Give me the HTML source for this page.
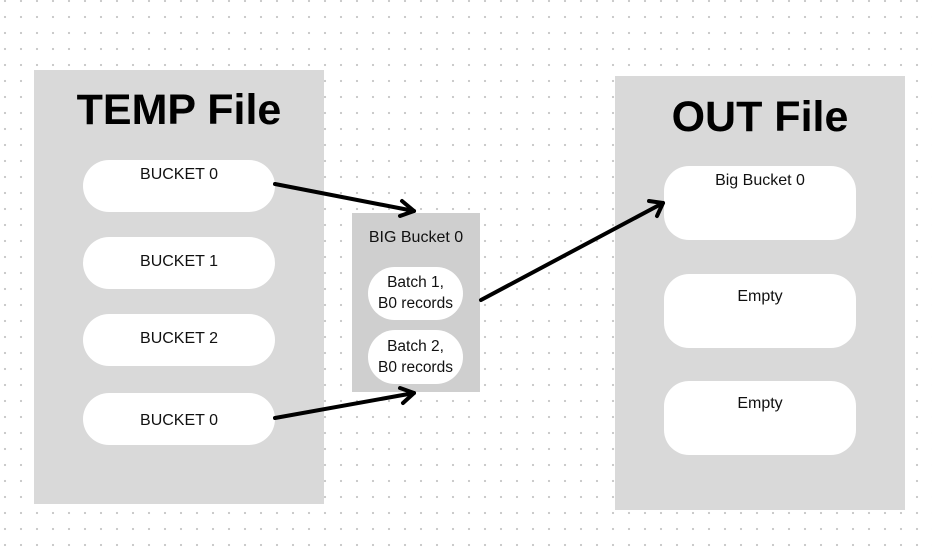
<!DOCTYPE html>
<html><head><style>
body{margin:0;width:932px;height:548px;overflow:hidden;background-color:#fff;
background-image:radial-gradient(circle,#c8c8c8 1px,transparent 1.3px);background-size:16px 16px;background-position:-3px -7px;
font-family:"Liberation Sans",sans-serif;position:relative}
.box{position:absolute;background:#d9d9d9}
.pill{position:absolute;background:#fff;text-align:center;font-size:16px;color:#111}
h1{position:absolute;margin:0;font-size:43px;font-weight:bold;text-align:center;color:#000}
</style></head><body>
<div class="box" style="left:34px;top:70px;width:290px;height:434px"></div>
<h1 style="left:34px;width:290px;top:86px">TEMP File</h1>
<div class="pill" style="left:83px;top:160px;width:192px;height:52px;border-radius:26px;padding-top:6px;box-sizing:border-box">BUCKET 0</div>
<div class="pill" style="left:83px;top:237px;width:192px;height:52px;border-radius:26px;line-height:50px">BUCKET 1</div>
<div class="pill" style="left:83px;top:314px;width:192px;height:52px;border-radius:26px;line-height:50px">BUCKET 2</div>
<div class="pill" style="left:83px;top:393px;width:192px;height:52px;border-radius:26px;line-height:56px">BUCKET 0</div>

<div class="box" style="left:352px;top:213px;width:128px;height:179px;background:#cfcfcf"></div>
<div style="position:absolute;left:352px;width:128px;top:229px;text-align:center;font-size:16px;color:#111">BIG Bucket 0</div>
<div class="pill" style="left:368px;top:267px;width:95px;height:53px;border-radius:27px;line-height:21px;padding-top:5px;box-sizing:border-box;font-size:15.5px">Batch 1,<br>B0 records</div>
<div class="pill" style="left:368px;top:330px;width:95px;height:54px;border-radius:27px;line-height:21px;padding-top:6px;box-sizing:border-box;font-size:15.5px">Batch 2,<br>B0 records</div>

<div class="box" style="left:615px;top:76px;width:290px;height:434px"></div>
<h1 style="left:615px;width:290px;top:93px">OUT File</h1>
<div class="pill" style="left:664px;top:166px;width:192px;height:74px;border-radius:25px;padding-top:6px;box-sizing:border-box">Big Bucket 0</div>
<div class="pill" style="left:664px;top:274px;width:192px;height:74px;border-radius:25px;padding-top:14px;box-sizing:border-box">Empty</div>
<div class="pill" style="left:664px;top:381px;width:192px;height:74px;border-radius:25px;padding-top:14px;box-sizing:border-box">Empty</div>

<svg width="932" height="548" style="position:absolute;left:0;top:0">
<g stroke="#000" stroke-width="4" fill="none" stroke-linecap="round" stroke-linejoin="round">
<line x1="275" y1="184" x2="414" y2="211"/><polyline points="402,201 414,211 400,216"/>
<line x1="275" y1="418" x2="414" y2="393"/><polyline points="400,388 414,393 403,403"/>
<line x1="481" y1="300" x2="663" y2="203"/><polyline points="649,201 663,203 657,216"/>
</g></svg>
</body></html>
